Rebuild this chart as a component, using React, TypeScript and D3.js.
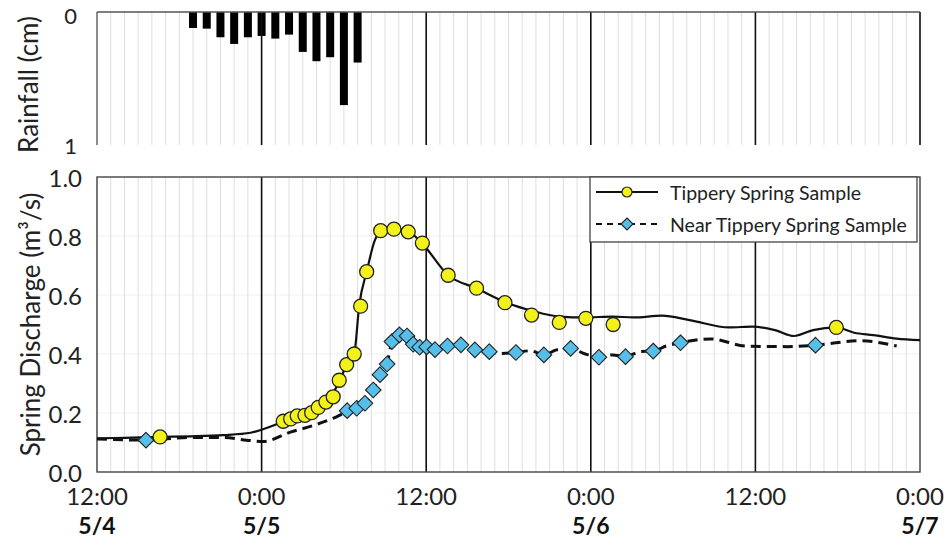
import React from "react";
import * as d3 from "d3";

// ---- Data ----
const rainHours = [7, 8, 9, 10, 11, 12, 13, 14, 15, 16, 17, 18, 19];
const rainCm = [0.12, 0.125, 0.19, 0.24, 0.19, 0.18, 0.2, 0.17, 0.3, 0.37, 0.34, 0.7, 0.38];

const tipSampleHours = [4.6, 13.58, 14.12, 14.6, 15.16, 15.65, 16.13, 16.69, 17.22, 17.66, 18.2, 18.75, 19.22, 19.66, 20.68, 21.65, 22.69, 23.72, 25.6, 27.67, 29.74, 31.68, 33.7, 35.64, 37.63, 53.9];
const tipSampleQ = [0.119, 0.172, 0.18, 0.19, 0.192, 0.201, 0.219, 0.237, 0.255, 0.311, 0.364, 0.4, 0.562, 0.679, 0.818, 0.823, 0.814, 0.776, 0.667, 0.623, 0.574, 0.532, 0.507, 0.521, 0.5, 0.49];

const nearSampleHours = [3.57, 18.24, 18.93, 19.53, 20.14, 20.63, 21.15, 21.5, 22.05, 22.6, 23.05, 23.52, 24.03, 24.64, 25.55, 26.53, 27.55, 28.6, 30.54, 32.58, 34.53, 36.59, 38.53, 40.55, 42.54, 52.38];
const nearSampleQ = [0.108, 0.208, 0.216, 0.233, 0.278, 0.33, 0.366, 0.442, 0.465, 0.461, 0.433, 0.423, 0.424, 0.415, 0.427, 0.431, 0.414, 0.408, 0.405, 0.397, 0.419, 0.389, 0.391, 0.41, 0.438, 0.43];

const tipLineHours = [0, 2, 4.6, 6.8, 9.2, 11.2, 12.1, 13.0, 13.6, 14.6, 15.6, 16.7, 17.7, 18.2, 18.75, 19.12, 19.66, 20.26, 20.7, 21.6, 22.7, 23.7, 25.6, 27.65, 29.75, 31.7, 33.7, 35.6, 37.6, 39.1, 41.2, 43.2, 46.1, 47.8, 49.5, 50.8, 52.2, 53.9, 55.2, 56.6, 58.3, 60];
const tipLineQ = [0.114, 0.116, 0.119, 0.121, 0.125, 0.133, 0.145, 0.16, 0.172, 0.188, 0.205, 0.236, 0.31, 0.364, 0.4, 0.566, 0.679, 0.786, 0.816, 0.825, 0.815, 0.775, 0.667, 0.623, 0.576, 0.547, 0.527, 0.524, 0.527, 0.524, 0.53, 0.515, 0.49, 0.493, 0.48, 0.461, 0.481, 0.49, 0.472, 0.464, 0.452, 0.447];

const nearLineHours = [0, 3.4, 6.8, 9.2, 10.9, 12.1, 14.1, 15.8, 17.5, 18.24, 18.93, 19.53, 20.14, 20.63, 21.15, 21.5, 22.05, 22.6, 23.05, 23.5, 24.0, 24.6, 25.55, 26.5, 27.55, 28.6, 29.4, 30.5, 31.6, 32.6, 33.5, 34.5, 35.6, 36.6, 37.6, 38.5, 39.6, 40.55, 41.5, 42.5, 44.7, 47.35, 50.3, 52.4, 55.6, 58.3];
const nearLineQ = [0.112, 0.108, 0.117, 0.117, 0.108, 0.103, 0.135, 0.158, 0.188, 0.205, 0.216, 0.232, 0.278, 0.33, 0.368, 0.44, 0.465, 0.461, 0.434, 0.423, 0.424, 0.415, 0.427, 0.431, 0.414, 0.408, 0.402, 0.405, 0.411, 0.397, 0.414, 0.419, 0.4, 0.389, 0.397, 0.391, 0.408, 0.41, 0.427, 0.438, 0.451, 0.427, 0.425, 0.43, 0.445, 0.427];

const majorHours = [0, 12, 24, 36, 48, 60];
const timeLabels = ["12:00", "0:00", "12:00", "0:00", "12:00", "0:00"];
const dateLabels = ["5/4", "5/5", "", "5/6", "", "5/7"];
const qTicks = [0, 0.2, 0.4, 0.6, 0.8, 1.0];
const rainTicks = [0, 1];
const legendLabels = ["Tippery Spring Sample", "Near Tippery Spring Sample"];

const FONT = "Lato, 'Open Sans', sans-serif";

export default function App() {
  const x = d3.scaleLinear().domain([0, 60]).range([97, 920]);
  const yR = d3.scaleLinear().domain([0, 1]).range([12, 145]);
  const yQ = d3.scaleLinear().domain([0, 1]).range([472, 177]);

  const hours = d3.range(0, 61);
  const barW = 8;

  const tipLine = d3
    .line<number>()
    .x((_, i) => x(tipLineHours[i]))
    .y((d) => yQ(d))
    .curve(d3.curveMonotoneX)(tipLineQ);
  const nearLine = d3
    .line<number>()
    .x((_, i) => x(nearLineHours[i]))
    .y((d) => yQ(d))
    .curve(d3.curveMonotoneX)(nearLineQ);

  const yellow = "#f2f21a";
  const blue = "#56bfe9";
  const outline = "#222";

  const diamond = (cx: number, cy: number, r: number) =>
    `M${cx},${cy - r}L${cx + r},${cy}L${cx},${cy + r}L${cx - r},${cy}Z`;

  const lgX = 590;
  const lgY = 177;

  return (
    <svg
      width={946}
      height={546}
      style={{ position: "absolute", left: 0, top: 0, background: "#fff" }}
      fontFamily={FONT}
    >
      <rect x={0} y={0} width={946} height={546} fill="#fff" />
      {/* ---- Top panel: rainfall ---- */}
      {hours.map((h) => (
        <line key={"tg" + h} x1={x(h)} x2={x(h)} y1={yR(0)} y2={yR(1)} stroke="#dedede" strokeWidth={1} />
      ))}
      {rainHours.map((h, i) => (
        <rect key={"rb" + i} x={x(h) - barW / 2} y={yR(0)} width={barW} height={yR(rainCm[i]) - yR(0)} fill="#000" />
      ))}
      {majorHours.slice(1).map((h) => (
        <line key={"tm" + h} x1={x(h)} x2={x(h)} y1={yR(0)} y2={yR(1)} stroke="#111" strokeWidth={1.6} />
      ))}
      <line x1={x(0)} x2={x(60)} y1={yR(0)} y2={yR(0)} stroke="#555" strokeWidth={1.3} />
      <line x1={x(0)} x2={x(0)} y1={yR(0)} y2={yR(1)} stroke="#555" strokeWidth={1.3} />
      {rainTicks.map((t) => (
        <text key={"rt" + t} x={77} y={t === 0 ? yR(t) + 3 : yR(t)} textAnchor="end" dominantBaseline="central" fontSize={22} fill="#222">
          {t}
        </text>
      ))}
      <text
        transform={`translate(28,${(yR(0) + yR(1)) / 2 + 6}) rotate(-90)`}
        textAnchor="middle"
        dominantBaseline="central"
        fontSize={26}
        fill="#222"
      >
        Rainfall (cm)
      </text>

      {/* ---- Bottom panel: discharge ---- */}
      {qTicks.slice(1, -1).map((t) => (
        <line key={"hg" + t} x1={x(0)} x2={x(60)} y1={yQ(t)} y2={yQ(t)} stroke="#f0f0f0" strokeWidth={1} />
      ))}
      {hours.map((h) => (
        <line key={"bg" + h} x1={x(h)} x2={x(h)} y1={yQ(0)} y2={yQ(1)} stroke="#dedede" strokeWidth={1} />
      ))}
      {majorHours.slice(1, -1).map((h) => (
        <line key={"bm" + h} x1={x(h)} x2={x(h)} y1={yQ(0)} y2={yQ(1)} stroke="#111" strokeWidth={1.6} />
      ))}
      <rect x={x(0)} y={yQ(1)} width={x(60) - x(0)} height={yQ(0) - yQ(1)} fill="none" stroke="#444" strokeWidth={1.4} />

      <path d={nearLine ?? ""} fill="none" stroke="#111" strokeWidth={3} strokeDasharray="10,6" />
      <path d={tipLine ?? ""} fill="none" stroke="#111" strokeWidth={2.2} />

      {nearSampleHours.map((h, i) => (
        <path key={"nd" + i} d={diamond(x(h), yQ(nearSampleQ[i]), 7.8)} fill={blue} stroke={outline} strokeWidth={1.1} />
      ))}
      {tipSampleHours.map((h, i) => (
        <circle key={"tc" + i} cx={x(h)} cy={yQ(tipSampleQ[i])} r={7} fill={yellow} stroke={outline} strokeWidth={1.3} />
      ))}

      {qTicks.map((t) => (
        <text key={"qt" + t} x={82} y={yQ(t)} textAnchor="end" dominantBaseline="central" fontSize={24} fill="#222">
          {t.toFixed(1)}
        </text>
      ))}
      <text
        transform={`translate(30,${(yQ(0) + yQ(1)) / 2}) rotate(-90)`}
        textAnchor="middle"
        dominantBaseline="central"
        fontSize={26}
        fill="#222"
      >
        Spring Discharge (m³/s)
      </text>

      {majorHours.map((h, i) => (
        <g key={"xl" + h}>
          <text x={x(h)} y={495} textAnchor="middle" dominantBaseline="central" fontSize={24} fill="#222">
            {timeLabels[i]}
          </text>
          {dateLabels[i] && (
            <text x={x(h)} y={525} textAnchor="middle" dominantBaseline="central" fontSize={23} fontWeight="bold" fill="#111">
              {dateLabels[i]}
            </text>
          )}
        </g>
      ))}

      {/* ---- Legend ---- */}
      <rect x={lgX} y={lgY} width={327} height={65} fill="#fff" stroke="#444" strokeWidth={1.3} />
      <line x1={lgX + 6} x2={lgX + 68} y1={lgY + 15} y2={lgY + 15} stroke="#111" strokeWidth={2} />
      <circle cx={lgX + 37} cy={lgY + 15} r={5} fill={yellow} stroke={outline} strokeWidth={1.2} />
      <text x={lgX + 80} y={lgY + 15} dominantBaseline="central" fontSize={19.5} fill="#222">
        {legendLabels[0]}
      </text>
      <line x1={lgX + 6} x2={lgX + 68} y1={lgY + 47} y2={lgY + 47} stroke="#111" strokeWidth={2} strokeDasharray="6,5" />
      <path d={diamond(lgX + 37, lgY + 47, 6)} fill={blue} stroke={outline} strokeWidth={1.1} />
      <text x={lgX + 80} y={lgY + 47} dominantBaseline="central" fontSize={19.5} fill="#222">
        {legendLabels[1]}
      </text>
    </svg>
  );
}
